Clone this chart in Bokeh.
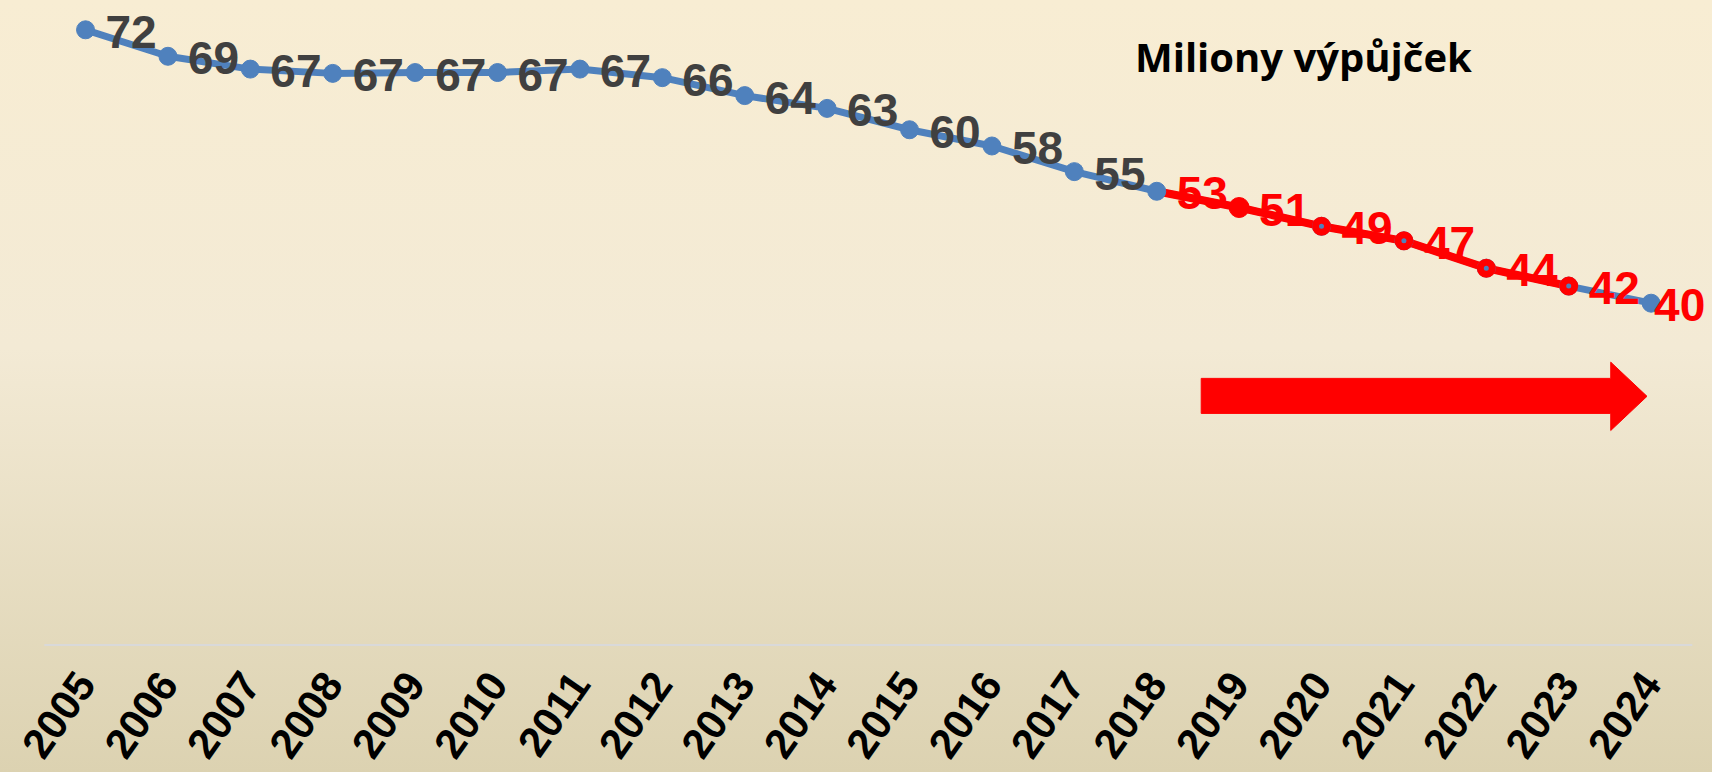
import math
from bokeh.plotting import figure
from bokeh.models import Range1d, FixedTicker, Label, ColumnDataSource
from bokeh.core.properties import value
from bokeh.embed import file_html
from bokeh.resources import INLINE

# ---- data -------------------------------------------------------------
years = list(range(2005, 2025))
loans = [72.0, 68.9, 67.4, 66.9, 67.0, 67.0, 67.4, 66.4, 64.3, 62.8,
         60.3, 58.4, 55.4, 53.1, 51.2, 49.0, 47.3, 44.1, 42.0, 40.0]
red_line_years = [2018, 2019, 2020, 2021, 2022, 2023]
red_fill_years = [2019]
red_ring_years = [2020, 2021, 2022, 2023]
red_label_from = 2018
title_text = "Miliony výpůjček"

# ---- styles -----------------------------------------------------------
BLUE = "#4F81BD"
RED = "#FF0000"
GRAY = "#404040"
FONT = "Liberation Sans"

p = figure(width=1712, height=772,
           x_range=Range1d(2003.968, 2024.745), y_range=Range1d(-1.12, 75.43),
           output_backend="svg", toolbar_location=None, y_axis_location=None,
           min_border_left=0, min_border_right=0, min_border_top=0, min_border_bottom=116)
p.background_fill_alpha = 0
p.border_fill_alpha = 0
p.outline_line_color = None
p.styles = {"background": "linear-gradient(to bottom, #F8EDD3 0%, #F3EAD5 45%, #DCD2B1 100%)"}
p.grid.visible = False

ax = p.xaxis[0]
ax.ticker = FixedTicker(ticks=years)
ax.axis_line_color = None
ax.major_tick_line_color = None
ax.minor_tick_line_color = None
ax.major_label_orientation = math.radians(55)
ax.major_label_text_font = FONT
ax.major_label_text_font_style = "bold"
ax.major_label_text_font_size = "42px"
ax.major_label_text_color = "black"
ax.major_label_standoff = 16

# arrow (decoration)
ax0, ax1, ax2 = 2018.54, 2023.51, 2023.95
sy0, sy1, hy0, hy1 = 27.1, 31.2, 25.1, 33.1
p.patch(x=[ax0, ax1, ax1, ax2, ax1, ax1, ax0],
        y=[sy0, sy0, hy0, (hy0 + hy1) / 2, hy1, sy1, sy1],
        fill_color=RED, line_color=RED)

# baseline
p.segment(x0=[years[0] - 0.5], y0=[0], x1=[years[-1] + 0.5], y1=[0],
          line_color="#D9D9D9", line_width=2)

src = ColumnDataSource(dict(
    x=years, y=loans,
    label=[str(round(v)) for v in loans],
    color=[RED if yr >= red_label_from else GRAY for yr in years],
    dx=[20] * (len(years) - 1) + [3],
))

rl = [loans[years.index(y)] for y in red_line_years]
rf = [loans[years.index(y)] for y in red_fill_years]
rr = [loans[years.index(y)] for y in red_ring_years]

p.line(years, loans, line_color=BLUE, line_width=7)
p.line(red_line_years, rl, line_color=RED, line_width=8)
p.scatter(years, loans, size=18, fill_color=BLUE, line_color=BLUE)
p.scatter(red_fill_years, rf, size=20, fill_color=RED, line_color=RED)
p.scatter(red_ring_years, rr, size=12, fill_color=None, line_color=RED, line_width=7)

p.text(x="x", y="y", text="label", source=src, x_offset="dx", y_offset=2,
       text_color="color", text_align="left", text_baseline="middle",
       text_font=value(FONT), text_font_style="bold", text_font_size="46px")

p.add_layout(Label(x=2019.78, y=68.9, text=title_text, text_align="center",
                   text_baseline="middle", text_font="Open Sans",
                   text_font_style="bold", text_font_size="40px", text_color="black"))

open("out.html", "w").write(file_html(p, INLINE))
